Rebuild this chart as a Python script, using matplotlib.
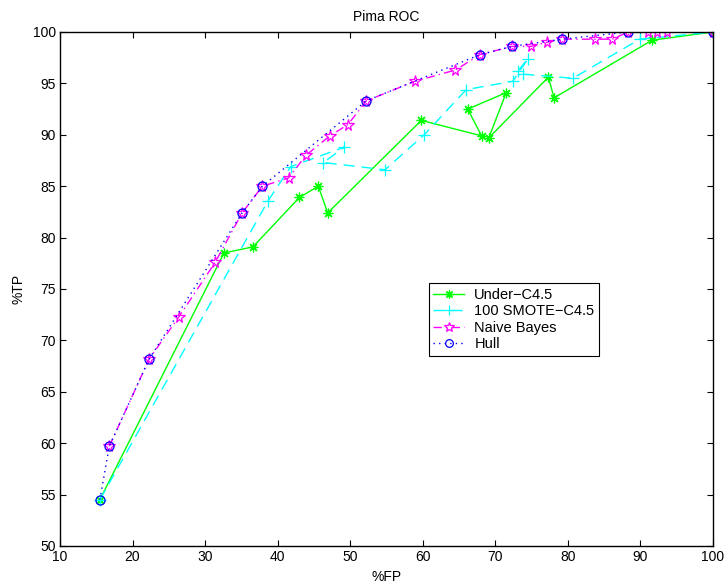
import matplotlib
matplotlib.use("Agg")
import matplotlib.pyplot as plt

plt.rcParams["font.family"] = ["Liberation Sans", "DejaVu Sans"]

# ── Data ──────────────────────────────────────────────────────────────────────
under_fp = [15.5, 32.6, 36.6, 43.0, 45.6, 46.9, 59.8, 68.1, 66.2, 71.5, 69.1, 77.3, 78.1, 91.6, 100.0]
under_tp = [54.5, 78.5, 79.1, 83.9, 85.0, 82.4, 91.4, 89.9, 92.5, 94.1, 89.7, 95.6, 93.6, 99.2, 100.0]

smote_fp = [15.5, 38.7, 41.8, 49.2, 46.3, 54.8, 60.2, 66.0, 72.4, 74.5, 73.1, 73.8, 80.7, 89.9, 100.0]
smote_tp = [54.5, 83.6, 86.9, 88.8, 87.3, 86.6, 90.0, 94.4, 95.2, 97.4, 96.2, 95.9, 95.5, 99.3, 100.0]

nb_fp = [16.8, 22.3, 26.4, 31.4, 35.1, 37.9, 41.5, 43.9, 47.2, 49.7, 52.2, 58.9, 64.5, 67.9,
         72.3, 74.9, 77.1, 79.2, 83.7, 86.1, 88.3, 91.0, 92.3, 93.7, 100.0]
nb_tp = [59.7, 68.2, 72.3, 77.6, 82.4, 85.0, 85.8, 88.0, 89.9, 91.0, 93.3, 95.2, 96.3, 97.8,
         98.6, 98.6, 99.0, 99.3, 99.3, 99.3, 100.0, 100.0, 100.0, 100.0, 100.0]

hull_fp = [15.5, 16.8, 22.3, 35.1, 37.9, 52.2, 67.9, 72.3, 79.2, 88.3, 100.0]
hull_tp = [54.5, 59.7, 68.2, 82.4, 85.0, 93.3, 97.8, 98.6, 99.3, 100.0, 100.0]

# ── Plot ──────────────────────────────────────────────────────────────────────
fig = plt.figure(figsize=(7.26, 5.86), dpi=100)
ax = fig.add_axes([0.0826, 0.0683, 0.8995, 0.8771])

ax.plot(under_fp, under_tp, color="#00ff00", linestyle="-", linewidth=1,
        marker=(8, 2, 0), markersize=7, markeredgewidth=0.9, label="Under\u2212C4.5")
ax.plot(smote_fp, smote_tp, color="#00ffff", linestyle=(0, (8, 5)), linewidth=1,
        marker="+", markersize=8, markeredgewidth=0.9, label="100 SMOTE\u2212C4.5")
ax.plot(nb_fp, nb_tp, color="#ff00ff", linestyle=(0, (6, 3, 1, 3)), linewidth=1,
        marker="*", markersize=8.5, markerfacecolor="none", markeredgewidth=0.9,
        label="Naive Bayes")
ax.plot(hull_fp, hull_tp, color="#0000ff", linestyle=(0, (1, 3)), linewidth=1,
        marker="o", markersize=6.5, markerfacecolor="none", markeredgewidth=0.9,
        label="Hull")

ax.set_xlim(10, 100)
ax.set_ylim(50, 100)
ax.set_xticks(range(10, 101, 10))
ax.set_yticks(range(50, 101, 5))
ax.tick_params(direction="in", top=True, right=True, length=4, labelsize=10, pad=3)
for sp in ax.spines.values():
    sp.set_linewidth(1)

ax.set_title("Pima ROC", fontsize=10, pad=8)
ax.set_xlabel("%FP", fontsize=10, labelpad=4)
ax.set_ylabel("%TP", fontsize=10, labelpad=5)

leg = ax.legend(loc="upper left", bbox_to_anchor=(0.554, 0.525), fontsize=10.5,
                frameon=True, fancybox=False, edgecolor="black", framealpha=1,
                handlelength=2.1, borderpad=0.3, labelspacing=0.17, handletextpad=0.7,
                markerscale=0.85)
leg.get_frame().set_linewidth(0.8)

fig.savefig("out.png", dpi=100)
